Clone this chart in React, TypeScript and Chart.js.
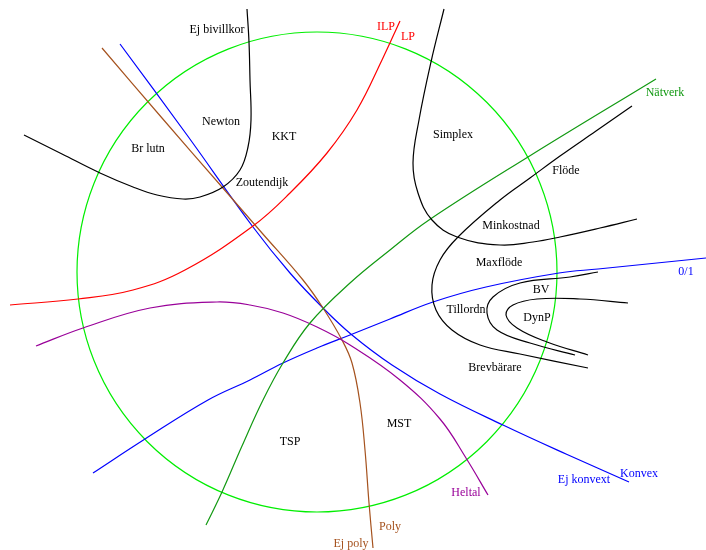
import React, { useEffect, useRef } from "react";
import { Chart, registerables } from "chart.js";

Chart.register(...registerables);

// Circle (data units)
const circleCenter = [317, 272];
const circleRadius = 240;

// Curves: [x, y] in data units (y downward)
const bivillkorCurve = [[247, 9], [249, 42], [250, 80], [251, 120], [248, 147], [240, 170], [223, 187], [200, 197], [183, 199], [157, 195], [133, 187], [100, 173], [62, 154], [24, 135]];
const konvexCurve = [[120, 44], [187, 135], [253, 227], [290, 273], [323, 308], [352, 335], [392, 365], [440, 394], [503, 425], [566, 454], [629, 482]];
const polyCurve = [[102, 48], [162, 118], [222, 187], [262, 233], [303, 280], [323, 308], [342, 340], [352, 363], [360, 403], [365, 450], [369, 503], [373, 548]];
const lpCurve = [[10, 305], [78, 299], [133, 290], [185, 270], [253, 226], [290, 193], [327, 153], [357, 110], [382, 60], [400, 21]];
const natverkCurve = [[206, 525], [222, 492], [242, 446], [263, 400], [283, 363], [310, 323], [350, 283], [390, 250], [429, 220], [528, 157], [656, 79]];
const heltalCurve = [[36, 346], [83, 328], [150, 308], [217, 302], [250, 305], [283, 313], [317, 327], [350, 345], [400, 380], [440, 419], [466, 458], [488, 495]];
const simplexCurve = [[444, 9], [431, 62], [419, 120], [413, 163], [418, 193], [432, 220], [457, 237], [500, 245], [533, 242], [560, 237], [600, 228], [637, 219]];
const flodeCurve = [[632, 106], [596, 131], [560, 156], [530, 178], [500, 200], [458, 237], [440, 260], [432, 285], [436, 310], [452, 330], [480, 345], [520, 354], [588, 368]];
const bvCurve = [[598, 272], [570, 277], [520, 283], [493, 297], [487, 313], [497, 330], [530, 343], [575, 355]];
const dynpCurve = [[628, 303], [580, 299], [537, 299], [513, 305], [506, 315], [517, 328], [547, 342], [588, 355]];
const nollEttCurve = [[93, 473], [145, 439], [208, 400], [250, 380], [283, 363], [317, 348], [350, 335], [390, 319], [433, 302], [486, 287], [559, 273], [598, 269], [706, 258]];

const curveList = [bivillkorCurve, simplexCurve, flodeCurve, bvCurve, dynpCurve, lpCurve, natverkCurve, heltalCurve, polyCurve, konvexCurve, nollEttCurve];
const curveColors = ["#000000", "#000000", "#000000", "#000000", "#000000", "#ff0000", "#119911", "#990099", "#a5521e", "#0000ff", "#0000ff"];

// Labels
const labelTexts = ["Ej bivillkor", "Newton", "KKT", "Br lutn", "Zoutendijk", "ILP", "LP", "Simplex", "Nätverk", "Flöde", "Minkostnad", "Maxflöde", "0/1", "BV", "DynP", "Tillordn", "Brevbärare", "MST", "Konvex", "Ej konvext", "Heltal", "Poly", "Ej poly", "TSP"];
const labelX = [217, 221, 284, 148, 262, 386, 408, 453, 665, 566, 511, 499, 686, 541, 537, 466, 495, 399, 639, 584, 466, 390, 351, 290];
const labelY = [30, 122, 137, 149, 183, 27, 37, 135, 93, 171, 226, 263, 272, 290, 318, 310, 368, 424, 474, 480, 493, 527, 544, 442];
const labelColors = ["#000", "#000", "#000", "#000", "#000", "#ff0000", "#ff0000", "#000", "#119911", "#000", "#000", "#000", "#0000ff", "#000", "#000", "#000", "#000", "#000", "#0000ff", "#0000ff", "#990099", "#a5521e", "#a5521e", "#000"];

const circlePlugin = {
  id: "circlePlugin",
  beforeDatasetsDraw(chart: any) {
    const { ctx, scales } = chart;
    const cx = scales.x.getPixelForValue(circleCenter[0]);
    const cy = scales.y.getPixelForValue(circleCenter[1]);
    const r = Math.abs(scales.x.getPixelForValue(circleCenter[0] + circleRadius) - cx);
    ctx.save();
    ctx.beginPath();
    ctx.arc(cx, cy, r, 0, Math.PI * 2);
    ctx.strokeStyle = "#00ee00";
    ctx.lineWidth = 1.2;
    ctx.stroke();
    ctx.restore();
  },
};

const labelPlugin = {
  id: "labelPlugin",
  afterDatasetsDraw(chart: any) {
    const { ctx, scales } = chart;
    ctx.save();
    ctx.font = '12px "Liberation Serif", "DejaVu Serif", serif';
    ctx.textAlign = "center";
    ctx.textBaseline = "middle";
    labelTexts.forEach((t, i) => {
      ctx.fillStyle = labelColors[i];
      ctx.fillText(t, scales.x.getPixelForValue(labelX[i]), scales.y.getPixelForValue(labelY[i]));
    });
    ctx.restore();
  },
};

export default function App() {
  const ref = useRef<HTMLCanvasElement>(null);
  useEffect(() => {
    if (!ref.current) return;
    const chart = new Chart(ref.current, {
      type: "scatter",
      data: {
        datasets: curveList.map((c, i) => ({
          data: c.map(([x, y]) => ({ x, y })),
          showLine: true,
          borderColor: curveColors[i],
          borderWidth: 1.2,
          pointRadius: 0,
          tension: 0.4,
          fill: false,
        })),
      },
      options: {
        animation: false,
        responsive: false,
        maintainAspectRatio: false,
        layout: { padding: 0 },
        plugins: { legend: { display: false }, tooltip: { enabled: false } },
        scales: {
          x: { type: "linear", min: 0, max: 706, display: false },
          y: { type: "linear", min: 0, max: 550, reverse: true, display: false },
        },
      },
      plugins: [circlePlugin, labelPlugin],
    });
    return () => chart.destroy();
  }, []);
  return (
    <div style={{ position: "absolute", left: 0, top: 0, width: 706, height: 550, background: "#fff" }}>
      <canvas ref={ref} width={706} height={550} />
    </div>
  );
}
